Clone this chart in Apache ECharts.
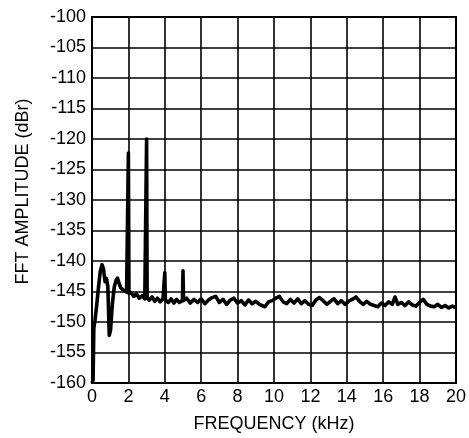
<!DOCTYPE html>
<html>
<head>
<meta charset="utf-8">
<script src="https://cdn.jsdelivr.net/npm/echarts@6/dist/echarts.min.js"></script>
<style>
html,body{margin:0;padding:0;background:#fff;}
#chart{width:469px;height:438px;}
</style>
</head>
<body>
<div id="chart"></div>
<script>
var freqKHz = [
  0, 0.06, 0.1, 0.16, 0.25, 0.35, 0.45, 0.55, 0.63, 0.72, 0.8, 0.87, 0.95, 1.02, 1.12, 1.22, 1.32, 1.4, 1.48, 1.58, 1.7, 1.8, 1.9, 1.97,
  2.0, 2.03, 2.15, 2.3, 2.45, 2.6, 2.75, 2.9, 2.97,
  3.0, 3.03, 3.15, 3.3, 3.45, 3.6, 3.75, 3.9, 3.97,
  4.0, 4.03, 4.2, 4.35, 4.5, 4.65, 4.8, 4.97,
  5.0, 5.03, 5.2, 5.4, 5.6, 5.8, 6.0, 6.2, 6.4, 6.6, 6.8, 7.0, 7.2, 7.4, 7.6, 7.8,
  8.0, 8.2, 8.4, 8.6, 8.8, 9.0, 9.2, 9.5, 9.7, 9.9, 10.1, 10.3, 10.5, 10.7, 10.9,
  11.1, 11.3, 11.5, 11.7, 11.9, 12.1, 12.3, 12.5, 12.7, 12.9, 13.1, 13.3, 13.5, 13.7, 13.9,
  14.1, 14.3, 14.5, 14.7, 14.9, 15.1, 15.3, 15.5, 15.7, 15.9, 16.1, 16.3, 16.5, 16.65, 16.8,
  17.0, 17.2, 17.4, 17.6, 17.8, 18.0, 18.2, 18.4, 18.6, 18.8, 19.0, 19.2, 19.4, 19.6, 19.8, 20.0
];
var amplitudeDbr = [
  -160, -159.5, -151, -149.8, -147.5, -144.5, -141.8, -140.6, -141.3, -143.4, -142.9, -144.2, -152.2, -151.3, -147, -144.3, -143.2, -142.8, -143.6, -144.4, -144.7, -144.9, -145.1, -145.2,
  -122.3, -145.3, -145.2, -145.8, -145.4, -146.1, -145.7, -146.2, -146.1,
  -120.0, -146.1, -146.4, -145.9, -146.6, -146.1, -146.7, -146.2, -146.4,
  -141.9, -146.4, -146.8, -146.2, -146.9, -146.3, -146.8, -146.5,
  -141.6, -146.5, -146.1, -146.9, -146.3, -146.8, -146.2, -147.0, -146.4, -146.0, -145.8, -146.8, -146.3, -147.1, -146.4, -146.1,
  -146.9, -146.5, -147.2, -146.4, -147.0, -146.6, -147.1, -147.5, -146.7, -146.5, -146.1, -145.8, -146.7, -147.0, -146.3,
  -146.9, -146.2, -147.0, -146.5, -147.1, -147.3, -146.4, -146.0, -146.5, -147.1, -146.6, -146.2, -147.0, -146.5, -147.1,
  -146.6, -146.3, -145.9, -146.6, -147.1, -146.6, -147.1, -147.3, -147.5, -146.9, -147.3, -146.7, -147.1, -145.9, -147.1,
  -146.8, -147.3, -146.7, -147.2, -147.4, -146.8, -146.3, -147.1, -147.4, -147.5, -147.1, -147.6, -147.3, -147.7, -147.4, -147.7
];
var xTicks = { min: 0, max: 20, interval: 2 };
var yTicks = { min: -160, max: -100, interval: 5 };
var xTitle = 'FREQUENCY (kHz)';
var yTitle = 'FFT AMPLITUDE (dBr)';

var seriesData = freqKHz.map(function (f, i) { return [f, amplitudeDbr[i]]; });

var chart = echarts.init(document.getElementById('chart'), null, { renderer: 'canvas' });
var font = 'Liberation Sans, Arial, sans-serif';
chart.setOption({
  backgroundColor: '#fff',
  animation: false,
  grid: { left: 92, right: 9.5, top: 17, bottom: 54, show: true, borderColor: '#000', borderWidth: 2, backgroundColor: 'transparent' },
  xAxis: {
    type: 'value', min: xTicks.min, max: xTicks.max, interval: xTicks.interval,
    name: xTitle, nameLocation: 'middle', nameGap: 32,
    nameTextStyle: { color: '#000', fontSize: 18, fontFamily: font },
    axisLine: { show: true, lineStyle: { color: '#000', width: 2 } },
    axisTick: { show: false },
    axisLabel: { color: '#000', fontSize: 18, fontFamily: font, margin: 5 },
    splitLine: { show: true, lineStyle: { color: '#000', width: 1.6 } }
  },
  yAxis: {
    type: 'value', min: yTicks.min, max: yTicks.max, interval: yTicks.interval,
    name: yTitle, nameLocation: 'middle', nameGap: 60,
    nameTextStyle: { color: '#000', fontSize: 18, fontFamily: font, padding: [0, 0, 0, 17] },
    axisLine: { show: true, lineStyle: { color: '#000', width: 2 } },
    axisTick: { show: false },
    axisLabel: { color: '#000', fontSize: 18, fontFamily: font, margin: 6 },
    splitLine: { show: true, lineStyle: { color: '#000', width: 1.6 } }
  },
  series: [{
    type: 'line', data: seriesData, showSymbol: false, symbol: 'none',
    lineStyle: { color: '#000', width: 3.6, join: 'round' }, z: 5
  }]
});
</script>
</body>
</html>
